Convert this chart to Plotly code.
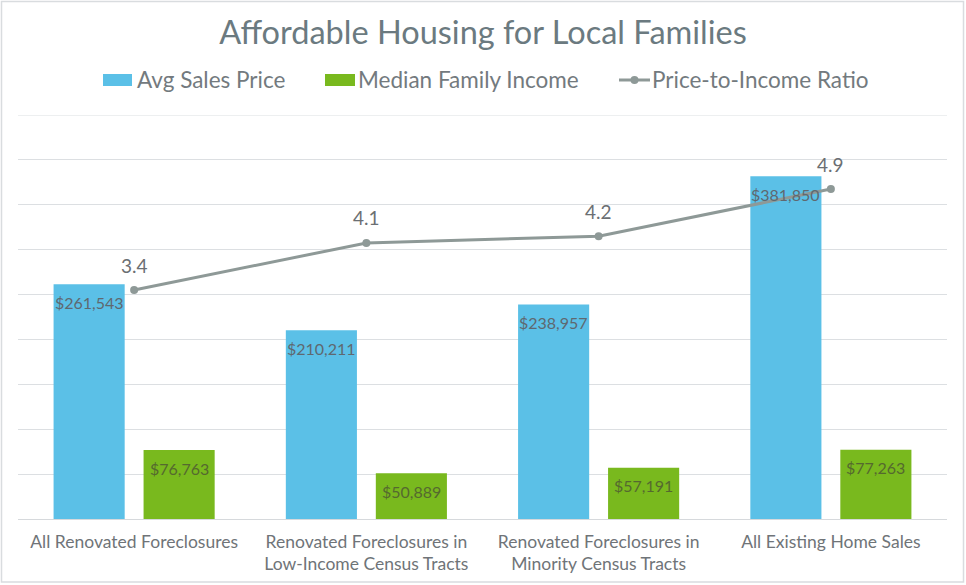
import plotly.graph_objects as go

categories = ["All Renovated Foreclosures",
              "Renovated Foreclosures in<br>Low-Income Census Tracts",
              "Renovated Foreclosures in<br>Minority Census Tracts",
              "All Existing Home Sales"]
avg_sales_price = [261543, 210211, 238957, 381850]
median_family_income = [76763, 50889, 57191, 77263]
price_to_income = [3.4, 4.1, 4.2, 4.9]
series_names = ["Avg Sales Price", "Median Family Income", "Price-to-Income Ratio"]
Y_MAX = 450000

FONT = "Lato"
W, H = 966, 585
L, R, T, B = 18, 19, 115, 66
pw, ph = W - L - R, H - T - B
BLUE, GREEN, GREY = "#5BC0E7", "#79B91E", "#8E9997"
GRID = "#dcdfe2"
BARGAP, GROUPGAP = 0.225, 0.21
bar_off = (1 - BARGAP) * pw / len(categories) / 4  # px offset of each bar centre


def px(x):
    return (x - L) / pw


def py(y):
    return (H - B - y) / ph


fig = go.Figure()
fig.add_trace(go.Bar(name=series_names[0], x=categories, y=avg_sales_price,
                     marker=dict(color=BLUE, line=dict(width=0))))
fig.add_trace(go.Bar(name=series_names[1], x=categories, y=median_family_income,
                     marker=dict(color=GREEN, line=dict(width=0))))
fig.add_trace(go.Scatter(name=series_names[2], x=categories, y=price_to_income,
                         yaxis="y2", mode="lines+markers",
                         line=dict(color=GREY, width=3),
                         marker=dict(color=GREY, size=8)))

# data labels
for c, v in zip(categories, avg_sales_price):
    fig.add_annotation(x=c, y=v, xref="x", yref="y", text=f"${v:,}",
                       showarrow=False, xshift=-bar_off, yshift=-18,
                       font=dict(family=FONT, size=16, color="#5f6870"))
for c, v in zip(categories, median_family_income):
    fig.add_annotation(x=c, y=v, xref="x", yref="y", text=f"${v:,}",
                       showarrow=False, xshift=bar_off, yshift=-18,
                       font=dict(family=FONT, size=16, color="#55692f"))
for c, v in zip(categories, price_to_income):
    fig.add_annotation(x=c, y=v, xref="x", yref="y2", text=f"{v:.1f}",
                       showarrow=False, yshift=25,
                       font=dict(family=FONT, size=19, color="#6b6f73"))

# top gridline (plotly clips gridlines at the range edge)
fig.add_shape(type="line", xref="paper", yref="y", x0=0, x1=1,
              y0=Y_MAX, y1=Y_MAX, line=dict(color=GRID, width=1), layer="below")

# custom legend
LEG_Y = 80
leg_font = dict(family=FONT, size=22.5, color="#737a7e")
for (x0, x1, tx), col, name in zip([(103, 132, 135), (325, 355, 356)],
                                   [BLUE, GREEN], series_names[:2]):
    fig.add_shape(type="rect", xref="paper", yref="paper",
                  x0=px(x0), x1=px(x1), y0=py(LEG_Y + 6), y1=py(LEG_Y - 6),
                  fillcolor=col, line=dict(width=0))
    fig.add_annotation(xref="paper", yref="paper", x=px(tx), y=py(LEG_Y),
                       xanchor="left", yanchor="middle", showarrow=False,
                       text=name, font=leg_font)
fig.add_shape(type="line", xref="paper", yref="paper",
              x0=px(619), x1=px(650), y0=py(LEG_Y), y1=py(LEG_Y),
              line=dict(color=GREY, width=3))
fig.add_shape(type="circle", xref="paper", yref="paper",
              x0=px(630.5), x1=px(638.5), y0=py(LEG_Y + 4), y1=py(LEG_Y - 4),
              fillcolor=GREY, line=dict(width=0))
fig.add_annotation(xref="paper", yref="paper", x=px(650), y=py(LEG_Y),
                   xanchor="left", yanchor="middle", showarrow=False,
                   text=series_names[2], font=leg_font)

# outer border
fig.add_shape(type="rect", xref="paper", yref="paper",
              x0=px(1.5), x1=px(963.5), y0=py(582), y1=py(1.5),
              line=dict(color="#d9dcdf", width=1.5), fillcolor="rgba(0,0,0,0)",
              layer="below")

fig.update_layout(
    width=W, height=H,
    margin=dict(l=L, r=R, t=T, b=B, autoexpand=False),
    paper_bgcolor="white", plot_bgcolor="white",
    font=dict(family=FONT, color="#6f7478"),
    title=dict(text="Affordable Housing for Local Families",
               x=0.5, xanchor="center", y=1 - 33 / H, yanchor="middle",
               yref="container",
               font=dict(family=FONT, size=32.5, color="#6b7a80")),
    showlegend=False,
    barmode="group", bargap=BARGAP, bargroupgap=GROUPGAP,
    xaxis=dict(showgrid=False, showline=False, ticks="", automargin=False,
               ticklabelstandoff=10,
               tickfont=dict(family=FONT, size=17.5, color="#6f7478")),
    yaxis=dict(range=[0, Y_MAX], tick0=0, dtick=50000, showticklabels=False,
               showgrid=True, gridcolor=GRID, gridwidth=1,
               zeroline=True, zerolinecolor="#d6d9dc", zerolinewidth=1,
               showline=False, ticks="", automargin=False),
    yaxis2=dict(range=[0, 6], overlaying="y", side="right",
                showgrid=False, showticklabels=False, zeroline=False,
                showline=False, ticks="", automargin=False),
)

fig.write_html("out.html", config={"displayModeBar": False},
               post_script="document.body.style.margin='0';"
                           "document.body.style.overflow='hidden';")
